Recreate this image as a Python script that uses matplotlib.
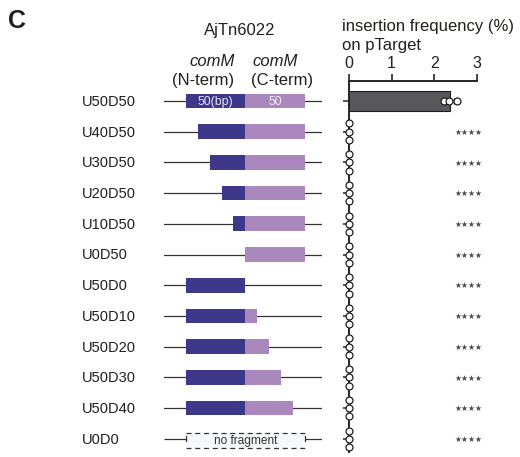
import matplotlib
matplotlib.use("Agg")
import matplotlib.pyplot as plt
import matplotlib.transforms as mtransforms
from matplotlib.patches import Rectangle
import numpy as np

plt.rcParams['font.family'] = ['Liberation Sans', 'DejaVu Sans']

# ---------------- data ----------------
constructs = ["U50D50", "U40D50", "U30D50", "U20D50", "U10D50", "U0D50",
              "U50D0", "U50D10", "U50D20", "U50D30", "U50D40", "U0D0"]
upstream_bp = [50, 40, 30, 20, 10, 0, 50, 50, 50, 50, 50, 0]
downstream_bp = [50, 50, 50, 50, 50, 50, 0, 10, 20, 30, 40, 0]
replicates = [[2.23, 2.35, 2.53]] + [[0.0, 0.0, 0.0] for _ in range(11)]
significance = [""] + ["****"] * 11
freq_ticks = [0, 1, 2, 3]

# ---------------- styling ----------------
W, H = 520, 457
fig = plt.figure(figsize=(W / 100, H / 100), dpi=100)
fig.patch.set_facecolor("white")

def fx(px):
    return px / W

def fy(py):
    return 1 - py / H

BLUE = "#3d3889"
PURPLE = "#aa87bc"
DARK = "#2a2520"
TXT = "#231f1c"
HDR = 12

y_top, y_bot = 81, 452
n = len(constructs)
ylim = (n - 1 + 0.43, -0.65)

# diagram axes
ax_d = fig.add_axes([fx(164.3), fy(y_bot), fx(321.7) - fx(164.3), (y_bot - y_top) / H])
ax_d.set_xlim(-68, 64)
ax_d.set_ylim(ylim)
ax_d.axis("off")

box_h = 0.48
for i, (name, u, d) in enumerate(zip(constructs, upstream_bp, downstream_bp)):
    if u == 0 and d == 0:
        bh = 0.48
        yc = i + 0.05
        ax_d.plot([-68, -50], [i, i], color="#333333", lw=0.9, solid_capstyle="butt")
        ax_d.plot([50, 64], [i, i], color="#333333", lw=0.9, solid_capstyle="butt")
        ax_d.plot([-50, -50], [i - 0.08, i + 0.08], color="#333333", lw=0.9)
        ax_d.plot([50, 50], [i - 0.08, i + 0.08], color="#333333", lw=0.9)
        ax_d.add_patch(Rectangle((-50, yc - bh / 2), 100, bh,
                                 facecolor="#f6f8fc", edgecolor="none"))
        for yy in (yc - bh / 2, yc + bh / 2):
            ax_d.plot([-50, 50], [yy, yy], color="#333333", lw=0.9,
                      linestyle=(0, (4, 3)))
        ax_d.text(0, yc + 0.02, "no fragment", ha="center", va="center",
                  fontsize=8.6, color="#333333")
    else:
        ax_d.plot([-68, 64], [i, i], color="#333333", lw=0.9, zorder=1)
        if u > 0:
            ax_d.add_patch(Rectangle((-u, i - box_h / 2), u, box_h,
                                     facecolor=BLUE, edgecolor="none", zorder=2))
        if d > 0:
            ax_d.add_patch(Rectangle((0, i - box_h / 2), d, box_h,
                                     facecolor=PURPLE, edgecolor="none", zorder=2))
    if i == 0:
        ax_d.text(-u / 2, i + 0.02, f"{u}(bp)", ha="center", va="center",
                  fontsize=8.8, color="#e6e2f2", zorder=3)
        ax_d.text(d / 2, i + 0.02, f"{d}", ha="center", va="center",
                  fontsize=8.8, color="#f0e8f4", zorder=3)

# row labels
trans = mtransforms.blended_transform_factory(fig.transFigure, ax_d.transData)
for i, name in enumerate(constructs):
    ax_d.text(fx(82), i + 0.03, name, transform=trans, ha="left", va="center",
              fontsize=10.5, color=TXT, clip_on=False)

# frequency axes
ax_f = fig.add_axes([fx(349), fy(y_bot), fx(477) - fx(349), (y_bot - y_top) / H])
ax_f.set_xlim(0, 3)
ax_f.set_ylim(ylim)
for s in ("bottom", "right"):
    ax_f.spines[s].set_visible(False)
for s in ("top", "left"):
    ax_f.spines[s].set_color(DARK)
    ax_f.spines[s].set_linewidth(1.4)
ax_f.xaxis.set_ticks_position("top")
ax_f.xaxis.set_label_position("top")
ax_f.set_xticks(freq_ticks)
ax_f.set_xticklabels([str(t) for t in freq_ticks])
ax_f.tick_params(axis="x", direction="out", length=5, width=1.2, color=DARK,
                 labelsize=11.5, labelcolor=TXT, pad=2.5)
ax_f.set_yticks(range(n))
ax_f.set_yticklabels([])
ax_f.tick_params(axis="y", direction="out", length=4, width=1.1, color=DARK)
ax_f.patch.set_alpha(0)

means = [float(np.mean(r)) for r in replicates]
for i, (m, reps) in enumerate(zip(means, replicates)):
    if m > 0:
        ax_f.barh(i, m, height=0.65, color="#58585a", edgecolor="#1e1e1e",
                  linewidth=0.8, zorder=2)
        sem = float(np.std(reps, ddof=1) / np.sqrt(len(reps)))
        ax_f.errorbar(m, i, xerr=sem, color="#1e1e1e", lw=0.8, capsize=2,
                      zorder=3)
    if len(set(reps)) == 1:
        offs = [-0.27, 0.0, 0.27]
    else:
        offs = [0.0] * len(reps)
    for v, o in zip(reps, offs):
        ax_f.plot(v, i + o, marker="o", markersize=5, markerfacecolor="white",
                  markeredgecolor="#1e1e1e", markeredgewidth=0.9, clip_on=False,
                  zorder=4, linestyle="none")
    if significance[i]:
        ax_f.text(2.79, i + 0.02, significance[i].replace("*", "\u2605"),
                  ha="center", va="center", fontsize=5.6, color="#4a4a4a",
                  family=["DejaVu Sans"], clip_on=False)

# header text
fig.text(fx(8), fy(21.5), "C", ha="left", va="center", fontsize=18,
         fontweight="bold", color=TXT)
fig.text(fx(240), fy(31), "AjTn6022", ha="center", va="center", fontsize=HDR,
         color=TXT)
fig.text(fx(212.5), fy(61), "comM", ha="center", va="center", fontsize=HDR,
         style="italic", color=TXT)
fig.text(fx(275), fy(61), "comM", ha="center", va="center", fontsize=HDR,
         style="italic", color=TXT)
fig.text(fx(203), fy(80.5), "(N-term)", ha="center", va="center", fontsize=HDR,
         color=TXT)
fig.text(fx(282), fy(80.5), "(C-term)", ha="center", va="center", fontsize=HDR,
         color=TXT)
fig.text(fx(342), fy(26.5), "insertion frequency (%)", ha="left", va="center",
         fontsize=HDR, color=TXT)
fig.text(fx(342), fy(45.5), "on pTarget", ha="left", va="center",
         fontsize=HDR, color=TXT)

fig.savefig("out.png", dpi=100, facecolor="white")
